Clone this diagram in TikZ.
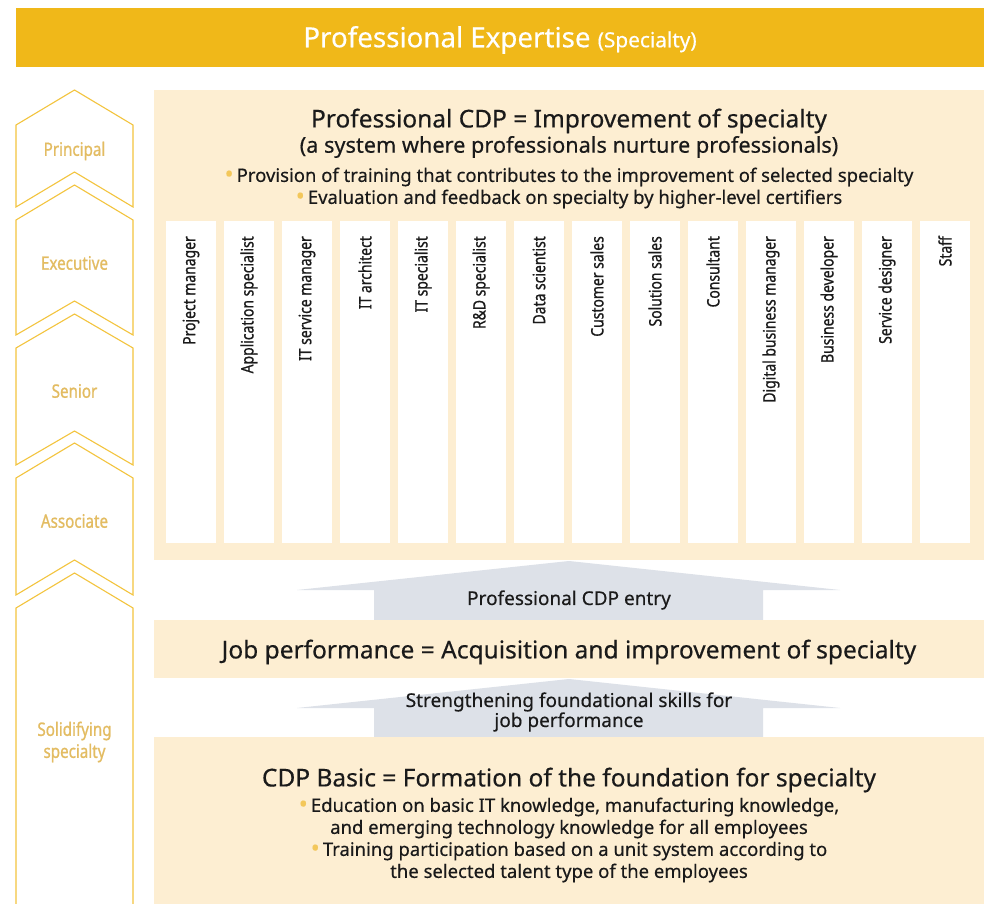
\documentclass[tikz,border=0pt]{standalone}
\usepackage{fontspec}
\setmainfont{Noto Sans}[FakeBold=0.4]
\newfontfamily\condfont[FakeStretch=0.82,FakeBold=0.9]{Noto Sans}
\definecolor{banner}{HTML}{F0B819}
\definecolor{peach}{HTML}{FDEED2}
\definecolor{arrowgray}{HTML}{DDE1E8}
\definecolor{chev}{HTML}{F3C43E}
\definecolor{chevtext}{HTML}{E3BC62}
\definecolor{dot}{HTML}{F3C75A}
\definecolor{ink}{HTML}{1A1A1A}
\newcommand{\bul}{{\color{dot}\raisebox{-0.05ex}{\scalebox{1.3}{•}}}\,}
\tikzset{
  chevline/.style={draw=chev, line width=1.1pt, line join=miter},
  chevlabel/.style={text=chevtext, font=\condfont\fontsize{18.5}{22}\selectfont, align=center, inner sep=0pt},
  peachbox/.style={fill=peach, draw=none},
  colbox/.style={fill=white, draw=none, anchor=north west, minimum width=50pt, minimum height=322pt, inner sep=0pt},
  collabel/.style={rotate=90, anchor=east, font=\condfont\fontsize{17}{19}\selectfont, text=ink, inner sep=0pt},
  bigtitle/.style={font=\fontsize{24.5}{28}\selectfont, text=ink, inner sep=0pt, align=center},
  bullets/.style={font=\fontsize{18.5}{22}\selectfont, text=ink, inner sep=0pt, align=center},
  arrowtext/.style={font=\fontsize{19}{20}\selectfont, text=ink, inner sep=0pt, align=center},
  uparrow/.style={fill=arrowgray, draw=none}
}
\begin{document}
\begin{tikzpicture}[x=1pt,y=-1pt]
\useasboundingbox (0,0) rectangle (989,904);
\fill[white] (0,0) rectangle (989,904);

% banner
\node[fill=banner, anchor=north west, minimum width=968pt, minimum height=59pt, inner sep=0pt] (banner) at (16,8) {};
\node[text=white, inner sep=0pt] (bannertext) at (500,40) {\fontsize{27.7}{30}\selectfont Professional Expertise {\fontsize{20.8}{24}\selectfont (Specialty)}};

% chevrons
\draw[chevline] (16,125) -- (74.5,90) -- (133,125) -- (133,207) -- (74.5,172) -- (16,207) -- cycle;
\draw[chevline] (16,220) -- (74.5,185) -- (133,220) -- (133,335) -- (74.5,301) -- (16,335) -- cycle;
\draw[chevline] (16,348) -- (74.5,314) -- (133,348) -- (133,465) -- (74.5,431) -- (16,465) -- cycle;
\draw[chevline] (16,478) -- (74.5,443) -- (133,478) -- (133,595) -- (74.5,560) -- (16,595) -- cycle;
\draw[chevline] (16,905) -- (16,608) -- (74.5,573) -- (133,608) -- (133,905);
\node[chevlabel] (principal) at (74.5,151) {Principal};
\node[chevlabel] (executive) at (74.5,263) {Executive};
\node[chevlabel] (senior) at (74.5,391) {Senior};
\node[chevlabel] (associate) at (74.5,521) {Associate};
\node[chevlabel] (solid) at (74.5,742) {Solidifying\\specialty};

% top peach box
\node[peachbox, anchor=north west, minimum width=830pt, minimum height=470pt, inner sep=0pt] (topbox) at (154,90) {};
\node[bigtitle] (toptitle) at (569,121) {Professional CDP = Improvement of specialty};
\node[bigtitle, font=\fontsize{21.7}{24}\selectfont] (topsub) at (569,147) {(a system where professionals nurture professionals)};
\node[bullets] (topbul) at (569,188) {\bul Provision of training that contributes to the improvement of selected specialty\\\bul Evaluation and feedback on specialty by higher-level certifiers};

% columns
\foreach \t [count=\i from 0] in {Project manager, Application specialist, IT service manager, IT architect, IT specialist, R\&D specialist, Data scientist, Customer sales, Solution sales, Consultant, Digital business manager, Business developer, Service designer, Staff}{
  \node[colbox] (col\i) at ({166+58*\i},221) {};
  \node[collabel] (lab\i) at ({191+58*\i},236) {\t};
}

% arrow 1
\fill[uparrow] (374,620) -- (374,590) -- (297,590) -- (569,561) -- (840,590) -- (763,590) -- (763,620) -- cycle;
\node[arrowtext] (entry) at (569,600) {Professional CDP entry};

% job performance box
\node[peachbox, anchor=north west, minimum width=830pt, minimum height=58pt, inner sep=0pt] (jobbox) at (154,620) {};
\node[bigtitle] (jobtext) at (569,652) {Job performance = Acquisition and improvement of specialty};

% arrow 2
\fill[uparrow] (374,737) -- (374,708) -- (297,708) -- (569,679) -- (840,708) -- (763,708) -- (763,737) -- cycle;
\node[arrowtext] (strength) at (569,712) {Strengthening foundational skills for\\job performance};

% bottom box
\node[peachbox, anchor=north west, minimum width=830pt, minimum height=167pt, inner sep=0pt] (basebox) at (154,737) {};
\node[bigtitle] (basetitle) at (569,780) {CDP Basic = Formation of the foundation for specialty};
\node[bullets] (basebul) at (569,840) {\bul Education on basic IT knowledge, manufacturing knowledge,\\and emerging technology knowledge for all employees\\\bul Training participation based on a unit system according to\\the selected talent type of the employees};
\end{tikzpicture}
\end{document}
